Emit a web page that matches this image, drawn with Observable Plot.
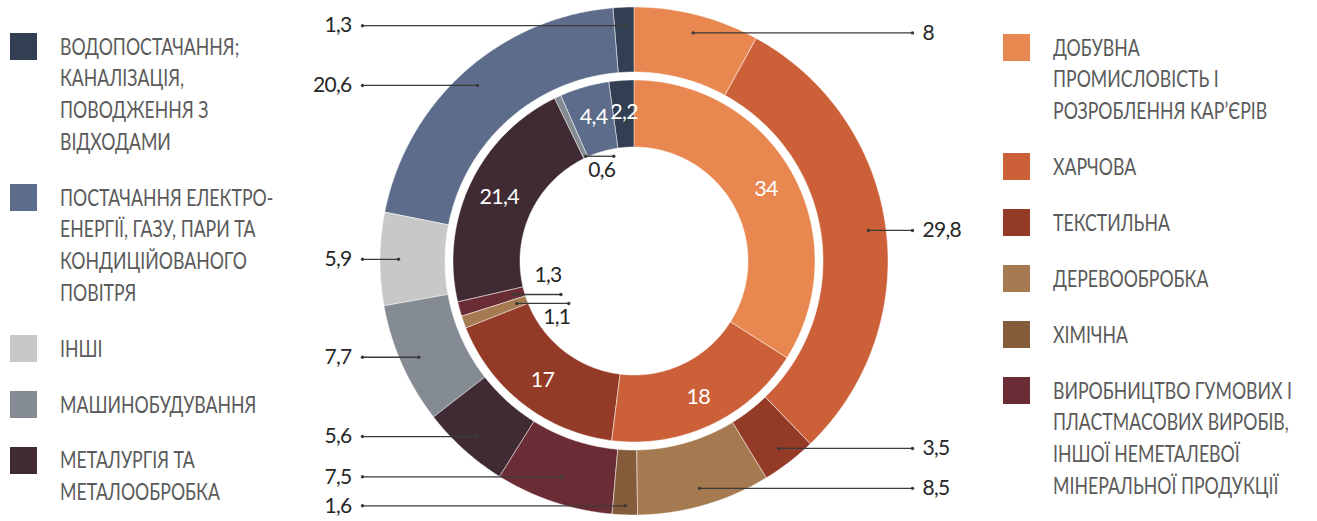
<!DOCTYPE html>
<html><head><meta charset="utf-8">
<script src="https://cdn.jsdelivr.net/npm/d3@7"></script>
<script src="https://cdn.jsdelivr.net/npm/@observablehq/plot@0.6"></script>
<style>
html,body{margin:0;padding:0;background:#fff;}
#wrap{position:relative;width:1317px;height:521px;overflow:hidden;font-family:Lato,"Open Sans",sans-serif;}
#chart{position:absolute;left:0;top:0;}
#chart text{letter-spacing:-0.7px;}
.sw{position:absolute;width:27px;height:27px;}
.lt{position:absolute;color:#5a5a5a;font-size:23px;line-height:31.7px;white-space:pre;transform-origin:0 50%;transform:scaleX(0.77);}
</style></head><body><div id="wrap"><div id="chart"></div></div>
<script>
// ---- data ----
const sectors = [
  "ДОБУВНА ПРОМИСЛОВІСТЬ І РОЗРОБЛЕННЯ КАР’ЄРІВ",
  "ХАРЧОВА",
  "ТЕКСТИЛЬНА",
  "ДЕРЕВООБРОБКА",
  "ХІМІЧНА",
  "ВИРОБНИЦТВО ГУМОВИХ І ПЛАСТМАСОВИХ ВИРОБІВ, ІНШОЇ НЕМЕТАЛЕВОЇ МІНЕРАЛЬНОЇ ПРОДУКЦІЇ",
  "МЕТАЛУРГІЯ ТА МЕТАЛООБРОБКА",
  "МАШИНОБУДУВАННЯ",
  "ІНШІ",
  "ПОСТАЧАННЯ ЕЛЕКТРОЕНЕРГІЇ, ГАЗУ, ПАРИ ТА КОНДИЦІЙОВАНОГО ПОВІТРЯ",
  "ВОДОПОСТАЧАННЯ; КАНАЛІЗАЦІЯ, ПОВОДЖЕННЯ З ВІДХОДАМИ"
];
const legendLines = [
  ["ДОБУВНА", "ПРОМИСЛОВІСТЬ І", "РОЗРОБЛЕННЯ КАР’ЄРІВ"],
  ["ХАРЧОВА"],
  ["ТЕКСТИЛЬНА"],
  ["ДЕРЕВООБРОБКА"],
  ["ХІМІЧНА"],
  ["ВИРОБНИЦТВО ГУМОВИХ І", "ПЛАСТМАСОВИХ ВИРОБІВ,", "ІНШОЇ НЕМЕТАЛЕВОЇ", "МІНЕРАЛЬНОЇ ПРОДУКЦІЇ"],
  ["МЕТАЛУРГІЯ ТА", "МЕТАЛООБРОБКА"],
  ["МАШИНОБУДУВАННЯ"],
  ["ІНШІ"],
  ["ПОСТАЧАННЯ ЕЛЕКТРО-", "ЕНЕРГІЇ, ГАЗУ, ПАРИ ТА", "КОНДИЦІЙОВАНОГО", "ПОВІТРЯ"],
  ["ВОДОПОСТАЧАННЯ;", "КАНАЛІЗАЦІЯ,", "ПОВОДЖЕННЯ З", "ВІДХОДАМИ"]
];
const outerValues = [8, 29.8, 3.5, 8.5, 1.6, 7.5, 5.6, 7.7, 5.9, 20.6, 1.3];
const innerValues = [34, 18, 17, 1.1, 0, 1.3, 21.4, 0.6, 0, 4.4, 2.2];
const colors = ["#E8874F", "#CC6038", "#943B28", "#A67A50", "#855C3A", "#6A2D35",
                "#402A33", "#848B93", "#C8C8C8", "#5C6C8A", "#323F52"];
const leftLegend = [10, 9, 8, 7, 6];
const rightLegend = [0, 1, 2, 3, 4, 5];

// ---- layout (pixels) ----
const W = 1317, H = 521, CX = 634, CY = 261, R = 254;
const ring = {outer: [189, 254], inner: [114, 181]};
const leaderR = 236, innerLabelR = 150, minLabelGap = 29;
const leftEnd = 362, rightEnd = 912;
const callout = { // small inner slices
  3: {r: 125, len: 52, pos: "below"},
  5: {r: 125, len: 47, pos: "above"},
  7: {r: 116, len: 28, pos: "below"}
};
const fmt = v => String(v).replace(".", ",");
const u = px => px / R; // pixels -> data units
const pie = d3.pie().sort(null).value(d => d);
const pt = (a, r) => [u(r) * Math.sin(a), u(r) * Math.cos(a)];

function arcRows(values, key) {
  const rows = [];
  const [r0, r1] = ring[key];
  pie(values).forEach((s, i) => {
    if (!(s.value > 0)) return;
    const n = Math.max(2, Math.ceil((s.endAngle - s.startAngle) / 0.008) + 1);
    for (let k = 0; k < n; k++) {
      const a = s.startAngle + (s.endAngle - s.startAngle) * k / (n - 1);
      const [x1, y1] = pt(a, r0), [x2, y2] = pt(a, r1);
      rows.push({id: key + i, sector: sectors[i], x1, y1, x2, y2});
    }
  });
  return rows;
}
const arcs = arcRows(outerValues, "outer").concat(arcRows(innerValues, "inner"));

// outer leaders with simple collision relaxation per side
const outerLeaders = pie(outerValues).map((s, i) => {
  const m = (s.startAngle + s.endAngle) / 2;
  const [x, y] = pt(m, leaderR);
  const right = Math.sin(m) > 0;
  return {m, x, y, py: CY - y * R, x2: u((right ? rightEnd : leftEnd) - CX), right, text: fmt(s.value)};
});
[true, false].forEach(side => {
  const g = outerLeaders.filter(d => d.right === side).sort((a, b) => a.py - b.py);
  for (let it = 0; it < 60; it++) {
    for (let k = 0; k + 1 < g.length; k++) {
      const d = minLabelGap - (g[k + 1].py - g[k].py);
      if (d > 0) { g[k].py -= d / 2; g[k + 1].py += d / 2; }
    }
    g.forEach(d => { d.py = Math.max(12, Math.min(H - 10, d.py)); });
  }
  g.forEach(d => {
    const ny = (CY - d.py) / R;
    if (Math.abs(ny - d.y) > 1e-6 && Math.abs(Math.cos(d.m)) > 0.3) {
      let r = ny / Math.cos(d.m);
      r = Math.max(u(195), Math.min(u(250), r));
      d.x = r * Math.sin(d.m);
    }
    d.y = ny;
  });
});
// inner labels
const innerPie = pie(innerValues);
const innerLabels = [], innerCallouts = [];
innerPie.forEach((s, i) => {
  if (!(s.value > 0)) return;
  const m = (s.startAngle + s.endAngle) / 2;
  if (callout[i]) {
    const c = callout[i];
    const [x, y] = pt(m, c.r);
    innerCallouts.push({x, y, x2: x + u(c.len), pos: c.pos, text: fmt(s.value)});
  } else {
    const [x, y] = pt(m, innerLabelR);
    innerLabels.push({x, y, text: fmt(s.value)});
  }
});
const ends = outerLeaders.flatMap(d => [{x: d.x, y: d.y}, {x: d.x2, y: d.y}])
  .concat(innerCallouts.flatMap(d => [{x: d.x, y: d.y}, {x: d.x2, y: d.y}]));

const lineColor = "#3b3b3b", numColor = "#262626", font = "Lato";
const chart = Plot.plot({
  width: W, height: H,
  marginLeft: CX - R, marginRight: W - CX - R,
  marginTop: CY - R, marginBottom: H - CY - R,
  x: {domain: [-1, 1], axis: null},
  y: {domain: [-1, 1], axis: null},
  color: {domain: sectors, range: colors},
  style: {fontFamily: font, background: "white", overflow: "visible"},
  marks: [
    Plot.area(arcs, {x1: "x1", y1: "y1", x2: "x2", y2: "y2", z: "id", fill: "sector",
      stroke: "white", strokeWidth: 0.8, strokeOpacity: 0.6}),
    Plot.link(outerLeaders, {x1: "x", y1: "y", x2: "x2", y2: "y", stroke: lineColor, strokeWidth: 1.3}),
    Plot.link(innerCallouts, {x1: "x", y1: "y", x2: "x2", y2: "y", stroke: lineColor, strokeWidth: 1.3}),
    Plot.dot(ends, {x: "x", y: "y", r: 1.7, fill: lineColor, stroke: null}),
    Plot.text(outerLeaders.filter(d => d.right), {x: "x2", y: "y", text: "text", dx: 10,
      textAnchor: "start", fontSize: 21, fill: numColor}),
    Plot.text(outerLeaders.filter(d => !d.right), {x: "x2", y: "y", text: "text", dx: -11,
      textAnchor: "end", fontSize: 21, fill: numColor}),
    Plot.text(innerLabels, {x: "x", y: "y", text: "text", fontSize: 21.5, fill: "white"}),
    Plot.text(innerCallouts.filter(d => d.pos === "above"), {x: "x2", y: "y", text: "text",
      dx: -13, dy: -19, fontSize: 21, fill: numColor}),
    Plot.text(innerCallouts.filter(d => d.pos === "below"), {x: "x2", y: "y", text: "text",
      dx: -12, dy: 14, fontSize: 21, fill: numColor})
  ]
});
document.getElementById("chart").appendChild(chart);

// ---- legends ----
const wrap = document.getElementById("wrap");
const LH = 31.7, GAP = 24.2;
function legend(idx, swX, txtX, y0) {
  let y = y0;
  idx.forEach(i => {
    const sw = document.createElement("div");
    sw.className = "sw";
    sw.style.left = swX + "px"; sw.style.top = (y - 13.5) + "px";
    sw.style.background = colors[i];
    wrap.appendChild(sw);
    const t = document.createElement("div");
    t.className = "lt";
    t.style.left = txtX + "px"; t.style.top = (y - LH / 2) + "px";
    t.textContent = legendLines[i].join("\n");
    wrap.appendChild(t);
    y += legendLines[i].length * LH + GAP;
  });
}
legend(leftLegend, 10, 60, 46.5);
legend(rightLegend, 1003, 1053, 47.5);
</script></body></html>
